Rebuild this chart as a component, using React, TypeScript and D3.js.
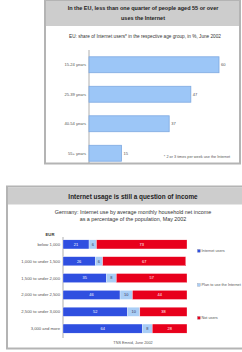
import React from 'react';
import * as d3 from 'd3';

// top chart: EU share of internet users by age
const ageGroups = ['15-24 years', '25-39 years', '40-54 years', '55+ years'];
const ageShares = [60, 47, 37, 15];

// bottom chart: Germany internet use by household income
const incomeGroups = [
  'below 1,000',
  '1,000 to under 1,500',
  '1,500 to under 2,000',
  '2,000 to under 2,500',
  '2,500 to under 3,000',
  '3,000 and more',
];
const internetUsers = [21, 26, 35, 46, 52, 64];
const planToUse = [6, 6, 8, 10, 10, 8];
const notUsers = [73, 67, 57, 44, 38, 28];
const seriesNames = ['Internet users', 'Plan to use the Internet', 'Not users'];
const seriesColors = ['#2f4fe0', '#a9cdf5', '#e8001c'];

const FONT = '"Liberation Sans", Arial, sans-serif';

const AgeChart: React.FC = () => {
  const x = d3.scaleLinear().domain([0, 60]).range([89, 219]);
  const y = d3.scaleBand().domain(ageGroups).range([50, 168]).paddingInner(0.46).paddingOuter(0.23);

  return (
    <g>
      <rect x={45} y={0.5} width={195} height={163} fill="#fff" stroke="#b4b4b4" strokeWidth={2} />
      <rect x={46} y={1} width={193} height={25} fill="#cdcdcd" />
      <text x={143} y={10} textAnchor="middle" fontSize={5.5} fontWeight="bold" fill="#222">
        In the EU, less than one quarter of people aged 55 or over
      </text>
      <text x={143} y={19.5} textAnchor="middle" fontSize={5.5} fontWeight="bold" fill="#222">
        uses the Internet
      </text>
      <text x={145} y={38} textAnchor="middle" fontSize={4.7} fill="#333">
        EU: share of Internet users* in the respective age group, in %, June 2002
      </text>
      <line x1={89} x2={89} y1={50} y2={163} stroke="#999" strokeWidth={0.8} />
      {ageGroups.map((g, i) => {
        const by = y(g)!;
        return (
          <g key={g}>
            <rect
              x={x(0)}
              y={by}
              width={x(ageShares[i]) - x(0)}
              height={y.bandwidth()}
              fill="#9cc6f7"
              stroke="#7ea9e0"
              strokeWidth={0.8}
            />
            <text x={86} y={by + y.bandwidth() / 2 + 1.5} textAnchor="end" fontSize={4.1} fill="#555">
              {g}
            </text>
            <text x={x(ageShares[i]) + 2} y={by + y.bandwidth() / 2 + 1.5} fontSize={4.1} fill="#555">
              {ageShares[i]}
            </text>
          </g>
        );
      })}
      <text x={197} y={158} textAnchor="middle" fontSize={3.8} fill="#555">
        * 2 or 3 times per week use the Internet
      </text>
    </g>
  );
};

const IncomeChart: React.FC = () => {
  const x = d3.scaleLinear().domain([0, 100]).range([63, 187]);
  const y = d3.scaleBand().domain(incomeGroups).range([236, 337]).paddingInner(0.46).paddingOuter(0.23);
  const stack = incomeGroups.map((_, i) => [internetUsers[i], planToUse[i], notUsers[i]]);
  const legendY = [252, 286, 319];

  return (
    <g>
      <rect x={7} y={186.5} width={245} height={162} fill="#fff" stroke="#b4b4b4" strokeWidth={2} />
      <rect x={8} y={187.5} width={243} height={17} fill="#cdcdcd" />
      <text x={133} y={198.5} textAnchor="middle" fontSize={6.4} fontWeight="bold" fill="#222">
        Internet usage is still a question of income
      </text>
      <text x={133} y={214} textAnchor="middle" fontSize={5.4} fill="#333">
        Germany: Internet use by average monthly household net income
      </text>
      <text x={133} y={221} textAnchor="middle" fontSize={5.4} fill="#333">
        as a percentage of the population, May 2002
      </text>
      <text x={50} y={235.5} textAnchor="middle" fontSize={4.2} fontWeight="bold" fill="#333">
        EUR
      </text>
      <line x1={63} x2={63} y1={237} y2={338} stroke="#999" strokeWidth={0.8} />
      {incomeGroups.map((g, i) => {
        const by = y(g)!;
        let acc = 0;
        return (
          <g key={g}>
            <text x={60} y={by + y.bandwidth() / 2 + 1.5} textAnchor="end" fontSize={4.2} fill="#555">
              {g}
            </text>
            {stack[i].map((v, j) => {
              const x0 = x(acc);
              acc += v;
              const x1 = x(acc);
              return (
                <g key={j}>
                  <rect x={x0} y={by} width={x1 - x0} height={y.bandwidth()} fill={seriesColors[j]} stroke="#fff" strokeWidth={0.3} />
                  <text
                    x={(x0 + x1) / 2}
                    y={by + y.bandwidth() / 2 + 1.4}
                    textAnchor="middle"
                    fontSize={3.9}
                    fill={j === 1 ? '#335' : '#fff'}
                  >
                    {v}
                  </text>
                </g>
              );
            })}
          </g>
        );
      })}
      {seriesNames.map((s, j) => (
        <g key={s}>
          <rect x={197.5} y={legendY[j] - 2.5} width={2.8} height={2.8} fill={seriesColors[j]} stroke="#667" strokeWidth={0.2} />
          <text x={201.5} y={legendY[j]} fontSize={3.8} fill="#555">
            {s}
          </text>
        </g>
      ))}
      <text x={133} y={344} textAnchor="middle" fontSize={3.8} fill="#555">
        TNS Emnid, June 2002
      </text>
    </g>
  );
};

export default function App() {
  return (
    <svg
      width={242}
      height={352}
      viewBox="0 0 242 352"
      style={{ position: 'absolute', left: 0, top: 0, background: '#fff' }}
      fontFamily={FONT}
    >
      <defs>
        <clipPath id="page">
          <rect x={0} y={0} width={242} height={352} />
        </clipPath>
      </defs>
      <g clipPath="url(#page)">
        <AgeChart />
        <IncomeChart />
      </g>
    </svg>
  );
}
